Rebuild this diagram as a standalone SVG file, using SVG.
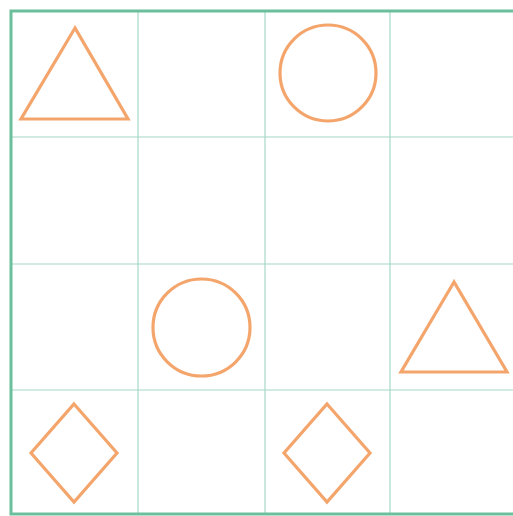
<svg xmlns="http://www.w3.org/2000/svg" width="513" height="516" viewBox="0 0 513 516">
<style>
.grid{stroke:#a6d8c6;stroke-width:1.2;fill:none}
.border{stroke:#6cbf9c;stroke-width:3;fill:none}
.shape{stroke:#f4a56c;stroke-width:3.2;fill:none;stroke-linejoin:miter}
</style>
<rect width="513" height="516" fill="#ffffff"/>
<g id="grid">
<line class="grid" x1="138" y1="11" x2="138" y2="514"/>
<line class="grid" x1="265" y1="11" x2="265" y2="514"/>
<line class="grid" x1="390" y1="11" x2="390" y2="514"/>
<line class="grid" x1="11" y1="137" x2="513" y2="137"/>
<line class="grid" x1="11" y1="264" x2="513" y2="264"/>
<line class="grid" x1="11" y1="390" x2="513" y2="390"/>
<rect class="border" x="11" y="11" width="506" height="503"/>
</g>
<g id="triangle1"><polygon class="shape" points="75,28 21,119 128,119"/></g>
<g id="circle1"><circle class="shape" cx="328" cy="73" r="48"/></g>
<g id="circle2"><circle class="shape" cx="201.5" cy="327.5" r="48.5"/></g>
<g id="triangle2"><polygon class="shape" points="454,282 401,372 507,372"/></g>
<g id="diamond1"><polygon class="shape" points="74,404 117,453 74,502 31,453"/></g>
<g id="diamond2"><polygon class="shape" points="327,404 370,453 327,502 284,453"/></g>
</svg>
